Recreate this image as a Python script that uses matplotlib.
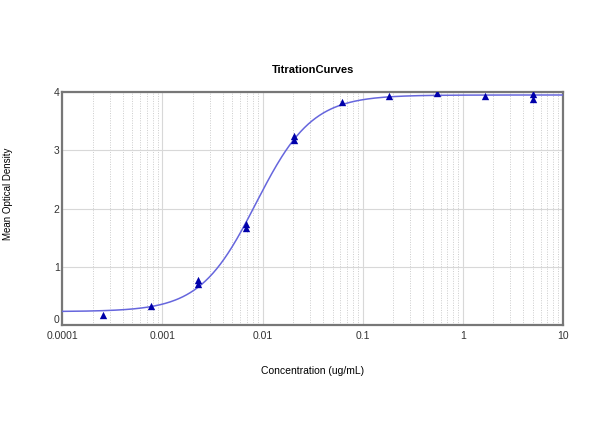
import matplotlib
matplotlib.use("Agg")
import matplotlib.pyplot as plt
import numpy as np
from matplotlib.ticker import FixedLocator, NullFormatter

# measured points (two replicates where visible)
conc = [0.000254, 0.000762, 0.00229, 0.00229, 0.00686, 0.00686,
        0.0206, 0.0206, 0.0617, 0.185, 0.556, 1.667, 5.0, 5.0]
od = [0.17, 0.33, 0.77, 0.70, 1.73, 1.67,
      3.24, 3.18, 3.83, 3.94, 3.98, 3.93, 3.96, 3.88]

# fitted 4-parameter logistic curve (bottom, top, ec50, hill slope)
fit_bottom = 0.23
fit_top = 3.95
fit_ec50 = 0.0086
fit_slope = 1.55

x_ticks = [0.0001, 0.001, 0.01, 0.1, 1, 10]
x_labels = ["0.0001", "0.001", "0.01", "0.1", "1", "10"]
y_ticks = [0, 1, 2, 3, 4]

plt.rcParams['font.family'] = ['Liberation Sans', 'DejaVu Sans']

fig = plt.figure(figsize=(6.0, 4.47), dpi=100)
ax = fig.add_axes([0.104, 0.273, 0.834, 0.521])

xs = np.logspace(-4, 1, 400)
curve = fit_top + (fit_bottom - fit_top) / (1 + (xs / fit_ec50) ** fit_slope)
ax.plot(xs, curve, color='#6666dd', lw=1.1, zorder=3)
ax.scatter(conc, od, marker='^', s=28, color='#0000aa', zorder=4, linewidths=0)

ax.set_xscale('log')
ax.set_xlim(0.0001, 10)
ax.set_ylim(0, 4)
ax.xaxis.set_major_locator(FixedLocator(x_ticks))
ax.set_xticklabels(x_labels)
ax.xaxis.set_minor_locator(FixedLocator(
    [m * 10.0 ** e for e in range(-4, 1) for m in range(2, 10)]))
ax.xaxis.set_minor_formatter(NullFormatter())
ax.set_yticks(y_ticks)

ax.grid(True, which='major', axis='both', color='#d8d8d8', lw=0.8, ls='-')
ax.grid(True, which='minor', axis='x', color='#cccccc', lw=0.7, ls=(0, (1, 1.5)))
ax.set_axisbelow(True)

for s in ax.spines.values():
    s.set_color('#777777')
    s.set_linewidth(1.6)

ax.tick_params(axis='x', which='both', length=0, labelsize=7.5, colors='#333333', pad=4)
ax.tick_params(axis='y', which='both', length=0, labelsize=7.5, colors='#333333', pad=2)
# nudge the "0" label up a bit, as in the original
ax.get_yticklabels()[0].set_verticalalignment('bottom')

ax.set_title("TitrationCurves", fontsize=8, fontweight='bold', pad=14)
ax.set_xlabel("Concentration (ug/mL)", fontsize=7.5, labelpad=18)
fig.text(8 / 600, 1 - 194 / 447, "Mean Optical Density", fontsize=7,
         rotation=90, ha='center', va='center')

fig.savefig("out.png", dpi=100)
